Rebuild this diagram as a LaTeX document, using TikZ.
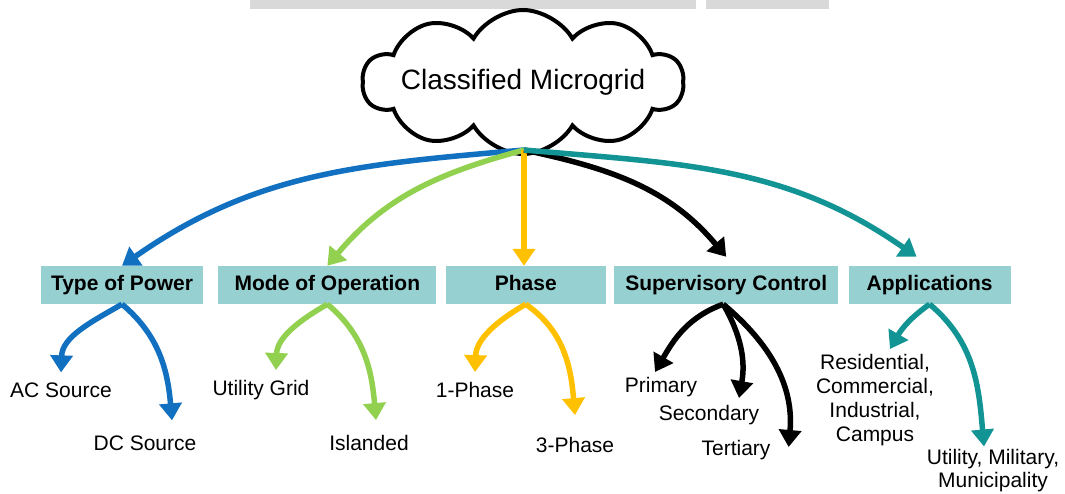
\documentclass[tikz,border=0pt]{standalone}
\usepackage{fontspec}
\setmainfont{Liberation Sans}
\usetikzlibrary{positioning,shapes.symbols,arrows.meta}
\definecolor{pblue}{RGB}{17,112,192}
\definecolor{pgreen}{RGB}{146,208,80}
\definecolor{pyellow}{RGB}{255,192,0}
\definecolor{pteal}{RGB}{18,148,148}
\definecolor{boxfill}{RGB}{150,208,209}
\definecolor{bargrey}{RGB}{217,217,217}

\begin{document}
\begin{tikzpicture}[x=1pt,y=1pt,
	cat/.style={fill=boxfill, minimum height=38pt, inner sep=0pt, text height=15pt, text depth=4pt, font=\fontsize{21}{24}\selectfont\bfseries},
	leaf/.style={align=center, inner sep=0pt, font=\fontsize{21}{24}\selectfont},
	arr/.style={line width=5.5pt, -{Triangle[width=22pt,length=17pt]}}]
		\useasboundingbox (0,0) rectangle (1065,494);
		
		%page strip
		\fill[bargrey] (250,485) rectangle (696,494);
		\fill[bargrey] (706,485) rectangle (829,494);
		
		%cloud
		\node (mg) [cloud, draw, line width=4pt, cloud puffs=10, cloud puff arc=120, cloud ignores aspect, inner xsep=-6pt, minimum width=300pt, minimum height=144pt, font=\fontsize{28}{32}\selectfont] at (523,412) {Classified Microgrid};
		\coordinate (root) at (524,344);
		
		%categories
		\node (power) [cat, minimum width=162pt] at (122,209) {Type of Power};
		\node (mode) [cat, minimum width=218pt, right = 15pt of power] {Mode of Operation};
		\node (phase) [cat, minimum width=160pt, right = 9pt of mode] {Phase};
		\node (ctrl) [cat, minimum width=224pt, right = 8pt of phase] {Supervisory Control};
		\node (apps) [cat, minimum width=162pt, right = 10pt of ctrl] {Applications};
		
		\draw[arr, pblue] (root) to[out=185, in=35] (power.north);
		\draw[arr, pgreen] (root) to[out=195, in=50] (mode.north);
		\draw[arr, pyellow] (root) -- (root |- phase.north);
		\draw[arr] (root) to[out=-12, in=130] ([yshift=9pt]ctrl.north);
		\draw[arr, pteal] (root) to[out=-5, in=145] ([xshift=-13pt, yshift=9pt]apps.north);
		
		%sub classes
		\node (ac) [leaf] at (61,104) {AC Source};
		\node (dc) [leaf] at (145,51) {DC Source};
		\node (grid) [leaf] at (261,104) {Utility Grid};
		\node (isl) [leaf] at (369,51) {Islanded};
		\node (ph1) [leaf] at (475,104) {1-Phase};
		\node (ph3) [leaf] at (575,49) {3-Phase};
		\node (prim) [leaf] at (661,107) {Primary};
		\node (sec) [leaf] at (709,79) {Secondary};
		\node (ter) [leaf] at (736,44) {Tertiary};
		\node (res) [leaf] at (875,94) {Residential,\\Commercial,\\Industrial,\\Campus};
		\node (util) [leaf, font=\fontsize{21}{23}\selectfont] at (993,23) {Utility, Military,\\Municipality};
		
		\draw[arr, pblue] (power.south) to[out=210, in=88] ([yshift=10pt]ac.north);
		\draw[arr, pblue] (power.south) to[out=-40, in=95] ([xshift=27pt, yshift=15pt]dc.north);
		\draw[arr, pgreen] (mode.south) to[out=210, in=88] ([xshift=15pt, yshift=10pt]grid.north);
		\draw[arr, pgreen] (mode.south) to[out=-40, in=95] ([xshift=7pt, yshift=15pt]isl.north);
		\draw[arr, pyellow] (phase.south) to[out=210, in=88] ([yshift=10pt]ph1.north);
		\draw[arr, pyellow] (phase.south) to[out=-35, in=95] ([yshift=22pt]ph3.north);
		\draw[arr] ([xshift=-3pt]ctrl.south) to[out=200, in=60] ([xshift=-6pt, yshift=5pt]prim.north);
		\draw[arr] ([xshift=-3pt]ctrl.south) to[out=-60, in=80] ([xshift=30pt, yshift=7pt]sec.north);
		\draw[arr] ([xshift=-3pt]ctrl.south) to[out=-40, in=85] ([xshift=18pt, yshift=3pt]ter.east);
		\draw[arr, pteal] (apps.south) to[out=215, in=60] ([xshift=15pt, yshift=5pt]res.north);
		\draw[arr, pteal] (apps.south) to[out=-40, in=95] ([xshift=-9pt, yshift=3pt]util.north);
\end{tikzpicture}
\end{document}
